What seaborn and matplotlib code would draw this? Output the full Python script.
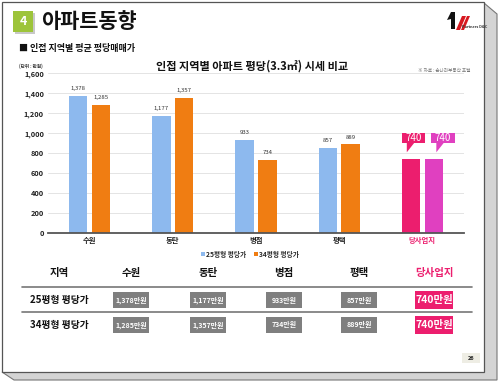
import pandas as pd
import matplotlib
matplotlib.use('Agg')
import matplotlib.pyplot as plt
from matplotlib.patches import Rectangle, Polygon
import seaborn as sns

# 데이터
regions = ['수원', '동탄', '병점', '평택', '당사업지']
p25 = [1378, 1177, 933, 857, 740]
p34 = [1285, 1357, 734, 889, 740]
series = ['25평형 평당가', '34평형 평당가']
yticks = [0, 200, 400, 600, 800, 1000, 1200, 1400, 1600]

blue = '#8DB9EE'
orange = '#F07D12'
pink1 = '#EC1E6E'
pink2 = '#E040C0'
box_gray = '#7F7F7F'

df = pd.DataFrame({
    '지역': regions * 2,
    '구분': [series[0]] * 5 + [series[1]] * 5,
    '평당가': p25 + p34,
})

sns.set_theme(style='white')
plt.rcParams['font.family'] = ['Noto Sans CJK KR', 'DejaVu Sans']
plt.rcParams['font.weight'] = 'bold'

W, H = 500, 381
fig = plt.figure(figsize=(5, 3.81), dpi=100)
fig.patch.set_facecolor('white')

# 슬라이드 배경 (픽셀 좌표)
bg = fig.add_axes([0, 0, 1, 1], zorder=0)
bg.set_xlim(0, W)
bg.set_ylim(H, 0)
bg.axis('off')

shadow = Polygon([(484, 3), (497, 14), (497, 380), (14, 380), (2, 372), (484, 372)],
                 closed=True, fc='#D4D4D4', ec='#777777', lw=0.8)
bg.add_patch(shadow)
bg.add_patch(Rectangle((2, 2), 482, 370, fc='white', ec='#555555', lw=0.9))

# 제목
bg.add_patch(Rectangle((15, 13), 20, 21, fc='#C8C8C8', ec='none'))
bg.add_patch(Rectangle((13, 11), 20, 21, fc='#9DC43A', ec='none'))
bg.text(23, 21.5, '4', color='white', fontsize=9, fontweight='bold', ha='center', va='center')
bg.text(41, 21, '아파트동향', fontsize=15, fontweight='bold', ha='left', va='center', color='#111111')
bg.text(19, 49, '■ 인접 지역별 평균 평당매매가', fontsize=6.5, fontweight='bold', ha='left', va='center', color='#111111')

# 로고
bg.add_patch(Polygon([(447, 20), (451, 12), (455, 12), (455, 29), (451, 29), (451, 19)], fc='#111111', ec='none'))
bg.add_patch(Polygon([(456, 30), (462, 16), (466, 16), (460, 30)], fc='#D71920', ec='none'))
bg.add_patch(Polygon([(461, 30), (467, 16), (470, 16), (464, 30)], fc='#D71920', ec='none'))
bg.text(475, 27, 'Partners D&C', fontsize=2.8, ha='center', va='center', color='#333333')

# 차트 제목 등
bg.text(252, 66, '인접 지역별 아파트 평당(3.3㎡) 시세 비교', fontsize=8, fontweight='bold',
        ha='center', va='center', color='#111111')
bg.text(444, 70, '※ 자료 : 손나라부동산 포털', fontsize=3.3, fontweight='normal',
        ha='center', va='center', color='#777777')
bg.text(31, 66, '(단위 : 만원)', fontsize=3.3, ha='center', va='center', color='#333333')

# 막대 차트
ax = fig.add_axes([48 / W, 1 - 233.3 / H, 416 / W, 160 / H], zorder=1)
ax.set_facecolor('none')
sns.barplot(data=df, x='지역', y='평당가', hue='구분', palette=[blue, orange],
            width=0.55, gap=0.2, ax=ax, edgecolor='none', saturation=1)

ax.containers[0][4].set_facecolor(pink1)
ax.containers[1][4].set_facecolor(pink2)

for k, cont in enumerate(ax.containers):
    for i, bar in enumerate(cont):
        x = bar.get_x() + bar.get_width() / 2
        v = bar.get_height()
        if i < 4:
            ax.text(x, v + 70, f'{int(v):,}', fontsize=4.3, fontweight='normal',
                    ha='center', va='center', color='#333333')
        else:
            c = bar.get_facecolor()
            bx = bar.get_x() + 0.08 * k
            bw = 0.28
            ax.add_patch(Rectangle((bx, 900), bw, 105, fc=c, ec='none', clip_on=False))
            ax.add_patch(Polygon([(bx + 0.06, 905), (bx + 0.15, 905), (bx + 0.06, 810)],
                                 fc=c, ec='none', clip_on=False))
            ax.text(bx + bw / 2, 953, f'{int(v)}', fontsize=7, fontweight='normal',
                    ha='center', va='center', color='white')

ax.set_ylim(0, 1600)
ax.set_xlim(-0.5, 4.5)
ax.set_yticks(yticks)
ax.set_yticklabels([f'{t:,}' for t in yticks])
ax.yaxis.grid(True, color='#E4E4E4', lw=0.7)
ax.set_axisbelow(True)
for s in ['top', 'right', 'left']:
    ax.spines[s].set_visible(False)
ax.spines['bottom'].set_color('#555555')
ax.spines['bottom'].set_linewidth(1.3)
ax.tick_params(axis='both', length=0, labelsize=5.3, colors='#222222', pad=3)
ax.set_xlabel('')
ax.set_ylabel('')
for lbl in ax.get_xticklabels() + ax.get_yticklabels():
    lbl.set_fontweight('bold')
ax.get_xticklabels()[4].set_color(pink1)

handles, labels = ax.get_legend_handles_labels()
ax.legend(handles, labels, loc='center', bbox_to_anchor=(250 / W, 1 - 254 / H),
          bbox_transform=fig.transFigure, ncol=2, frameon=False, fontsize=4.8,
          handlelength=0.6, handleheight=0.6, handletextpad=0.2, columnspacing=1.2)

# 표
cols_x = [131, 208, 284, 359, 434]
bg.text(59, 273, '지역', fontsize=7.5, fontweight='bold', ha='center', va='center', color='#111111')
for i, r in enumerate(regions):
    bg.text(cols_x[i], 273, r, fontsize=7.5, fontweight='bold', ha='center', va='center',
            color=pink1 if i == 4 else '#111111')
bg.plot([22, 472], [287, 287], color='#777777', lw=1.2)
bg.plot([22, 472], [312, 312], color='#777777', lw=1.2)

rows_y = [300, 325]
for row, vals, y in zip(series, [p25, p34], rows_y):
    bg.text(59, y, row, fontsize=7, fontweight='bold', ha='center', va='center', color='#111111')
    for i, v in enumerate(vals):
        if i < 4:
            bg.add_patch(Rectangle((cols_x[i] - 18, y - 8), 36, 16, fc=box_gray, ec='none'))
            bg.text(cols_x[i], y, f'{v:,}만원', fontsize=5, fontweight='bold',
                    ha='center', va='center', color='white')
        else:
            bg.add_patch(Rectangle((cols_x[i] - 19, y - 9), 38, 18, fc=pink1, ec='none'))
            bg.text(cols_x[i], y, f'{v:,}만원', fontsize=7.5, fontweight='bold',
                    ha='center', va='center', color='white')

# 페이지 번호
bg.add_patch(Rectangle((462, 353), 18, 10, fc='#EEEDE4', ec='none'))
bg.text(471, 358, '26', fontsize=4, fontweight='bold', ha='center', va='center', color='#222222')

fig.savefig('out.png', dpi=100)
